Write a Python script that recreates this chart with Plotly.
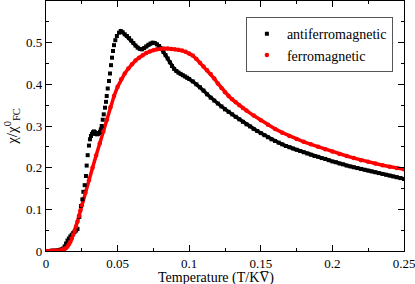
import plotly.graph_objects as go

# ---- antiferromagnetic (black squares) ----
afm_T = [0.000, 0.002, 0.004, 0.006, 0.008, 0.010, 0.011, 0.012, 0.013, 0.014,
         0.015, 0.016, 0.017, 0.018, 0.019, 0.020, 0.021, 0.022,
         0.0233, 0.0244, 0.0254, 0.0261, 0.0270, 0.0279, 0.0284, 0.0291, 0.0300,
         0.0307, 0.0314, 0.0321, 0.0328, 0.0335, 0.0342, 0.0349, 0.0356, 0.0363,
         0.0370, 0.0377, 0.0383, 0.0389, 0.0396, 0.0403, 0.0412, 0.0419, 0.0424,
         0.0431, 0.0440, 0.0447, 0.0454, 0.0461, 0.0468, 0.0475, 0.0484, 0.0495,
         0.0510, 0.0522,
         0.0535, 0.0550, 0.0565, 0.0580, 0.0595, 0.0610, 0.0625, 0.0640, 0.0655,
         0.0670, 0.0685, 0.0700, 0.0715, 0.0730, 0.0745, 0.0760, 0.0775, 0.0790,
         0.0805, 0.0820, 0.0835, 0.0850, 0.0865, 0.0880, 0.0895, 0.0910, 0.0925,
         0.0940, 0.0955, 0.0970, 0.0985, 0.1000,
         0.1025, 0.1050, 0.1075, 0.1100, 0.1125, 0.1150, 0.1175, 0.1200, 0.1225,
         0.1250, 0.1275, 0.1300, 0.1325, 0.1350, 0.1375, 0.1400, 0.1425, 0.1450,
         0.1475, 0.1500, 0.1525, 0.1550, 0.1575, 0.1600, 0.1625, 0.1650, 0.1675,
         0.1700, 0.1725, 0.1750, 0.1775, 0.1800, 0.1825, 0.1850, 0.1875, 0.1900,
         0.1925, 0.1950, 0.1975, 0.2000, 0.2025, 0.2050, 0.2075, 0.2100, 0.2125,
         0.2150, 0.2175, 0.2200, 0.2225, 0.2250, 0.2275, 0.2300, 0.2325, 0.2350,
         0.2375, 0.2400, 0.2425, 0.2450, 0.2475, 0.2500]
afm_chi = [0.000, 0.000, 0.001, 0.001, 0.002, 0.003, 0.004, 0.006, 0.011, 0.018,
           0.025, 0.030, 0.035, 0.039, 0.043, 0.046, 0.049, 0.053,
           0.082, 0.108, 0.124, 0.142, 0.158, 0.180, 0.205, 0.230, 0.253,
           0.268, 0.276, 0.281, 0.285, 0.287, 0.285, 0.281, 0.280, 0.281,
           0.283, 0.286, 0.292, 0.300, 0.315, 0.328, 0.344, 0.358, 0.372,
           0.390, 0.408, 0.426, 0.446, 0.464, 0.480, 0.494, 0.506, 0.516,
           0.524, 0.528,
           0.525, 0.520, 0.516, 0.511, 0.505, 0.499, 0.493, 0.488, 0.485,
           0.484, 0.487, 0.491, 0.495, 0.498, 0.500, 0.499, 0.496, 0.492,
           0.486, 0.478, 0.470, 0.462, 0.453, 0.444, 0.437, 0.432, 0.428,
           0.425, 0.422, 0.419, 0.416, 0.413,
           0.407, 0.400, 0.393, 0.385, 0.376, 0.368, 0.361, 0.354, 0.347,
           0.340, 0.334, 0.328, 0.322, 0.316, 0.310, 0.304, 0.299, 0.293,
           0.288, 0.283, 0.278, 0.273, 0.268, 0.264, 0.260, 0.256, 0.252,
           0.249, 0.246, 0.243, 0.240, 0.237, 0.234, 0.231, 0.228, 0.226,
           0.223, 0.221, 0.218, 0.215, 0.213, 0.210, 0.208, 0.205, 0.203,
           0.201, 0.199, 0.197, 0.195, 0.193, 0.191, 0.189, 0.187, 0.185,
           0.183, 0.181, 0.179, 0.177, 0.175, 0.173]

# ---- ferromagnetic (red circles) ----
fm_T = [0.000, 0.0025, 0.005, 0.0075, 0.010, 0.012, 0.013, 0.014, 0.015, 0.016,
        0.017, 0.018, 0.019, 0.020, 0.021, 0.022, 0.023, 0.024, 0.025,
        0.0275, 0.030, 0.0325, 0.035, 0.0375, 0.040, 0.0425, 0.045, 0.0475,
        0.050, 0.0525, 0.055, 0.0575, 0.060, 0.0625, 0.065, 0.0675, 0.070,
        0.0725, 0.075, 0.0775, 0.080, 0.0825, 0.085, 0.0875, 0.090, 0.0925,
        0.095, 0.0975, 0.100, 0.1025, 0.105, 0.1075, 0.110, 0.1125, 0.115,
        0.1175, 0.120, 0.1225, 0.125, 0.1275, 0.130, 0.1325, 0.135, 0.1375,
        0.140, 0.145, 0.150, 0.155, 0.160, 0.165, 0.170, 0.175, 0.180, 0.185,
        0.190, 0.195, 0.200, 0.205, 0.210, 0.215, 0.220, 0.225, 0.230, 0.235,
        0.240, 0.245, 0.250]
fm_chi = [0.000, 0.000, 0.001, 0.001, 0.002, 0.004, 0.005, 0.007, 0.011, 0.016,
          0.022, 0.030, 0.039, 0.048, 0.058, 0.071, 0.084, 0.097, 0.110,
          0.140, 0.170, 0.200, 0.229, 0.258, 0.287, 0.315, 0.345, 0.372,
          0.394, 0.412, 0.426, 0.438, 0.448, 0.457, 0.464, 0.470, 0.475,
          0.479, 0.482, 0.484, 0.485, 0.486, 0.486, 0.485, 0.484, 0.483,
          0.481, 0.478, 0.474, 0.469, 0.461, 0.452, 0.443, 0.434, 0.425,
          0.414, 0.402, 0.391, 0.381, 0.372, 0.364, 0.357, 0.350, 0.343,
          0.337, 0.325, 0.314, 0.303, 0.293, 0.284, 0.276, 0.269, 0.262, 0.256,
          0.250, 0.244, 0.239, 0.233, 0.228, 0.223, 0.218, 0.214, 0.210, 0.206,
          0.202, 0.199, 0.196]

x_ticks = [0, 0.05, 0.1, 0.15, 0.2, 0.25]
x_ticklabels = ["0", "0.05", "0.1", "0.15", "0.2", "0.25"]
y_ticks = [0, 0.1, 0.2, 0.3, 0.4, 0.5]
y_ticklabels = ["0", "0.1", "0.2", "0.3", "0.4", "0.5"]

serif = "Liberation Serif, Times New Roman, serif"

fig = go.Figure()

# lines through the smooth parts of the data, for the continuous look
afm_line_T = [t for t in afm_T if t >= 0.05]
afm_line_chi = [c for t, c in zip(afm_T, afm_chi) if t >= 0.05]
fig.add_trace(go.Scatter(x=afm_line_T, y=afm_line_chi, mode="lines",
                         line=dict(color="black", width=3.5),
                         showlegend=False, hoverinfo="skip"))
fig.add_trace(go.Scatter(x=fm_T, y=fm_chi, mode="lines",
                         line=dict(color="red", width=3.5),
                         showlegend=False, hoverinfo="skip"))
fig.add_trace(go.Scatter(x=afm_T, y=afm_chi, mode="markers",
                         name="antiferromagnetic",
                         marker=dict(symbol="square", size=4, color="black")))
fig.add_trace(go.Scatter(x=fm_T, y=fm_chi, mode="markers",
                         name="ferromagnetic",
                         marker=dict(symbol="circle", size=4.5, color="red")))

axis_common = dict(
    showline=True, linecolor="black", linewidth=1.2, mirror="ticks",
    ticks="inside", ticklen=6, tickwidth=1, tickcolor="black",
    showgrid=False, zeroline=False, ticklabeloverflow="allow",
    tickfont=dict(family=serif, size=13, color="black"),
)

fig.update_xaxes(range=[0, 0.25], tickvals=x_ticks, ticktext=x_ticklabels,
                 minor=dict(ticks="inside", ticklen=3, tickcolor="black",
                            dtick=0.025, showgrid=False),
                 **axis_common)
fig.update_yaxes(range=[0, 0.6], tickvals=y_ticks, ticktext=y_ticklabels,
                 minor=dict(ticks="inside", ticklen=3, tickcolor="black",
                            dtick=0.05, showgrid=False),
                 title=dict(text="\u03c7/\u03c7<sup>0</sup><sub>FC</sub>",
                            font=dict(family=serif, size=15, color="black"),
                            standoff=4),
                 **axis_common)

# x-axis title placed as a paper annotation below the tick labels
fig.add_annotation(text="Temperature (T/KV\u0305)", xref="paper", yref="paper",
                   x=0.475, y=-0.108, xanchor="center", yanchor="middle",
                   showarrow=False, borderpad=0,
                   font=dict(family=serif, size=14, color="black"))

fig.update_layout(
    width=415, height=284,
    margin=dict(l=46, r=11, t=1, b=33, autoexpand=False),
    paper_bgcolor="white", plot_bgcolor="white",
    showlegend=True,
    legend=dict(x=0.969, y=0.935, xanchor="right", yanchor="top",
                bordercolor="#555555", borderwidth=1, bgcolor="white",
                font=dict(family=serif, size=14, color="black"),
                tracegroupgap=0, itemwidth=30),
)

fig.write_html("out.html", config={"displayModeBar": False},
               post_script="document.body.style.margin='0';")
